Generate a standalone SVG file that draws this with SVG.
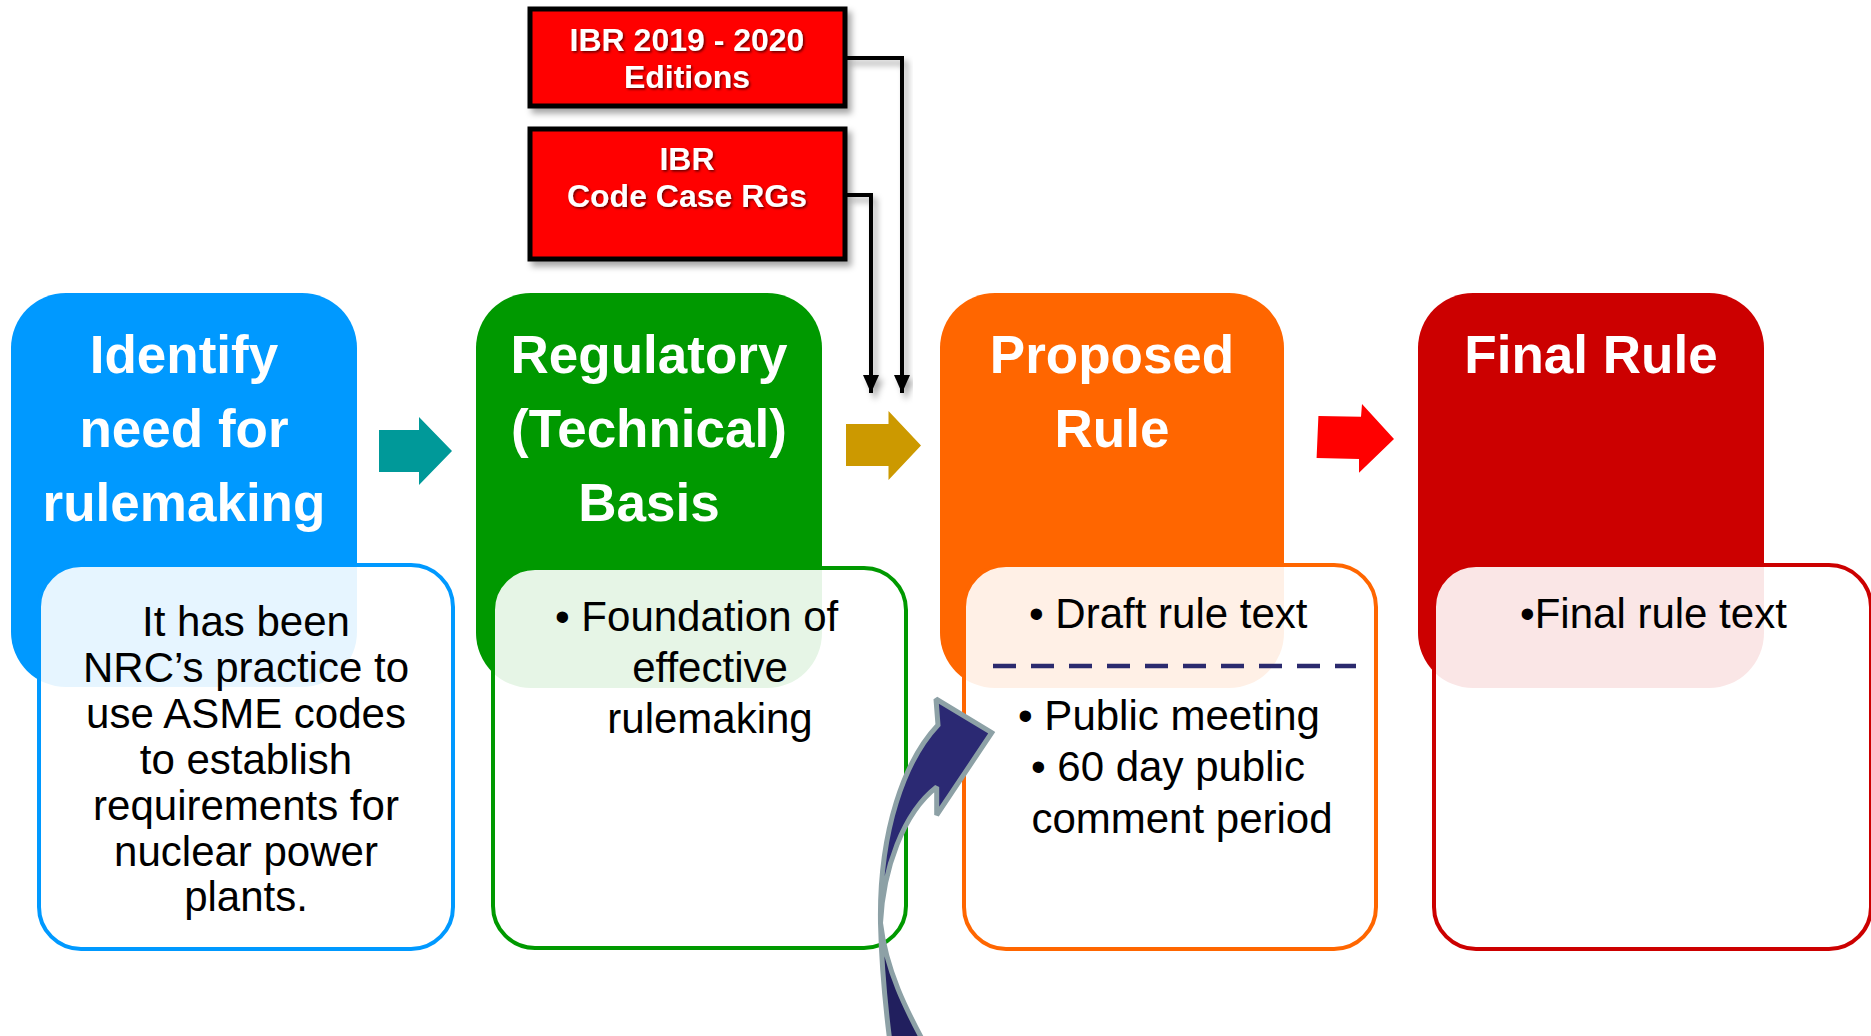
<svg xmlns="http://www.w3.org/2000/svg" width="1871" height="1036" viewBox="0 0 1871 1036">
<defs>
<style>
.title{font-family:"Liberation Sans",Arial,sans-serif;font-weight:bold;font-size:53px;fill:#fff;text-anchor:middle}
.ibr{font-family:"Liberation Sans",Arial,sans-serif;font-weight:bold;font-size:32px;fill:#fff;text-anchor:middle}
.body{font-family:"Liberation Sans",Arial,sans-serif;font-size:42px;fill:#000}
.mid{text-anchor:middle}
.card{fill:#fff;fill-opacity:0.9;stroke-width:4}
.redbox{fill:#FF0000;stroke:#000;stroke-width:5}
.conn{fill:none;stroke:#000;stroke-width:4}
</style>
<filter id="shadow" x="-10%" y="-10%" width="130%" height="140%">
<feDropShadow dx="4" dy="5" stdDeviation="3" flood-color="#000" flood-opacity="0.35"/>
</filter>
<filter id="tshadow" x="-5%" y="-20%" width="110%" height="150%">
<feDropShadow dx="1.5" dy="1.5" stdDeviation="1" flood-color="#000" flood-opacity="0.6"/>
</filter>
<marker id="ah" markerUnits="userSpaceOnUse" markerWidth="18" markerHeight="16" refX="18" refY="8" orient="auto">
<path d="M0,0 L18,8 L0,16 Z" fill="#000"/>
</marker>
</defs>

<g id="node-identify">
<rect x="11" y="293" width="346" height="394" rx="55" ry="55" fill="#0099FF"/>
<text class="title" x="184" y="373">Identify</text>
<text class="title" x="184" y="447">need for</text>
<text class="title" x="184" y="521">rulemaking</text>
</g>

<g id="node-regulatory">
<rect x="476" y="293" width="346" height="395" rx="55" ry="55" fill="#009900"/>
<text class="title" x="649" y="373">Regulatory</text>
<text class="title" x="649" y="447">(Technical)</text>
<text class="title" x="649" y="521">Basis</text>
</g>

<g id="node-proposed">
<rect x="940" y="293" width="344" height="395" rx="55" ry="55" fill="#FF6600"/>
<text class="title" x="1112" y="373">Proposed</text>
<text class="title" x="1112" y="447">Rule</text>
</g>

<g id="node-final">
<rect x="1418" y="293" width="346" height="395" rx="55" ry="55" fill="#CC0000"/>
<text class="title" x="1591" y="373">Final Rule</text>
</g>

<g id="card-identify">
<rect class="card" x="39" y="565" width="414" height="384" rx="42" ry="42" stroke="#0099FF"/>
<text class="body mid" x="246" y="636">It has been</text>
<text class="body mid" x="246" y="682">NRC’s practice to</text>
<text class="body mid" x="246" y="728">use ASME codes</text>
<text class="body mid" x="246" y="774">to establish</text>
<text class="body mid" x="246" y="820">requirements for</text>
<text class="body mid" x="246" y="866">nuclear power</text>
<text class="body mid" x="246" y="911">plants.</text>
</g>

<g id="card-regulatory">
<rect class="card" x="493" y="568" width="413" height="380" rx="42" ry="42" stroke="#009900"/>
<text class="body" x="555" y="631">• Foundation of</text>
<text class="body mid" x="710" y="682">effective</text>
<text class="body mid" x="710" y="733">rulemaking</text>
</g>

<g id="card-proposed">
<rect class="card" x="964" y="565" width="412" height="384" rx="42" ry="42" stroke="#FF6600"/>
<text class="body" x="1029" y="628">• Draft rule text</text>
<line x1="993" y1="666" x2="1356" y2="666" stroke="#2B2A6E" stroke-width="4.5" stroke-dasharray="23,15"/>
<text class="body" x="1018" y="730">• Public meeting</text>
<text class="body" x="1031" y="781">• 60 day public</text>
<text class="body mid" x="1182" y="833">comment period</text>
</g>

<g id="card-final">
<rect class="card" x="1434" y="565" width="437" height="384" rx="42" ry="42" stroke="#CC0000"/>
<text class="body" x="1520" y="628">•Final rule text</text>
</g>

<g id="box-ibr-editions" filter="url(#shadow)">
<rect class="redbox" x="530" y="9" width="315" height="97"/>
</g>
<g id="box-ibr-editions-text" filter="url(#tshadow)">
<text class="ibr" x="687" y="51">IBR 2019 - 2020</text>
<text class="ibr" x="687" y="88">Editions</text>
</g>

<g id="box-ibr-codecase" filter="url(#shadow)">
<rect class="redbox" x="530" y="129" width="315" height="130"/>
</g>
<g id="box-ibr-codecase-text" filter="url(#tshadow)">
<text class="ibr" x="687" y="170">IBR</text>
<text class="ibr" x="687" y="207">Code Case RGs</text>
</g>

<g id="connectors">
<g filter="url(#shadow)">
<path class="conn" d="M847,58 H902 V393" marker-end="url(#ah)"/>
<path class="conn" d="M847,195 H871 V393" marker-end="url(#ah)"/>
</g>
<path d="M379,430 H419 V417 L452,451 L419,485 V472 H379 Z" fill="#009999"/>
<path d="M846,424 H888.5 V411 L921,445.5 L888.5,480 V466 H846 Z" fill="#CC9900"/>
<path d="M1318.4,416 L1361,416.7 L1362,404 L1394,439 L1359,472.7 L1359,459 L1316.6,458 Z" fill="#FF0000"/>
<g id="curved-arrow" stroke="#8DA1A6" stroke-width="5" stroke-linejoin="miter" stroke-miterlimit="2">
<path d="M880.5,923 C881.5,965 885,1005 891,1050 L928,1050 C906,1010 886,970 880.5,923 Z" fill="#211F5E"/>
<path d="M991.7,732.7 L936,699 L938,725 C905,760 879,830 880.5,923 C883,870 903,813 936.7,787 L936.7,815 Z" fill="#2B2973"/>
</g>
</g>
</svg>
